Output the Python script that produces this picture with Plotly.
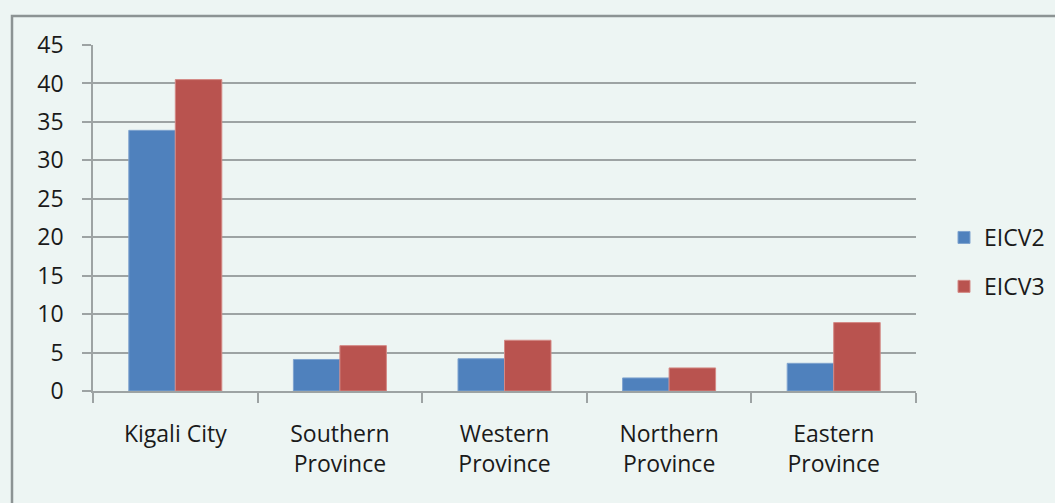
import plotly.graph_objects as go

categories = ["Kigali City", "Southern<br>Province", "Western<br>Province",
              "Northern<br>Province", "Eastern<br>Province"]
eicv2 = [33.9, 4.1, 4.2, 1.7, 3.6]
eicv3 = [40.5, 5.9, 6.6, 3.0, 8.9]
series_names = ["EICV2", "EICV3"]
y_ticks = [0, 5, 10, 15, 20, 25, 30, 35, 40, 45]

W, H = 1055, 503
L, R, T, B = 93, 916, 45, 391
pw, ph = R - L, B - T

BG = "#EDF5F3"
GRID = "#9DA3A3"
FONT = "Open Sans"

fig = go.Figure()
fig.add_trace(go.Bar(x=categories, y=eicv2, name=series_names[0],
                     marker=dict(color="#4F81BD", line=dict(color="#7FA3CF", width=1)),
                     legendgroup="a"))
fig.add_trace(go.Bar(x=categories, y=eicv3, name=series_names[1],
                     marker=dict(color="#B9534F", line=dict(color="#D48985", width=1)),
                     legendgroup="b"))

def px_to_paper_x(px):
    return (px - L) / pw

def px_to_paper_y(py):
    return (B - py) / ph

fig.update_layout(
    width=W, height=H,
    margin=dict(l=L, r=W - R, t=T, b=H - B, pad=0, autoexpand=False),
    paper_bgcolor=BG, plot_bgcolor=BG,
    barmode="group", bargap=0.435, bargroupgap=0,
    font=dict(family=FONT, size=23, color="#1A1A1A"),
    showlegend=True,
    legend=dict(xref="container", yref="container",
                x=944 / W, xanchor="left",
                y=1 - 262 / H, yanchor="middle",
                bgcolor="rgba(0,0,0,0)", tracegroupgap=16,
                font=dict(family=FONT, size=23, color="#1A1A1A")),
    xaxis=dict(type="category", tickson="boundaries", ticks="outside",
               ticklen=10, tickcolor=GRID, tickwidth=1.5,
               showline=True, linecolor=GRID, linewidth=1.5,
               showgrid=False, ticklabelstandoff=22, automargin=False),
    yaxis=dict(range=[0, 45], tickvals=y_ticks, ticks="outside",
               ticklen=9, tickcolor=GRID, tickwidth=1.5,
               showline=True, linecolor=GRID, linewidth=1.5,
               showgrid=True, gridcolor=GRID, gridwidth=1.5,
               zeroline=False, ticklabelstandoff=14, automargin=False),
    shapes=[dict(type="rect", xref="paper", yref="paper",
                 x0=px_to_paper_x(12), x1=px_to_paper_x(1070),
                 y0=px_to_paper_y(520), y1=px_to_paper_y(16),
                 line=dict(color="#8C9393", width=2.5), fillcolor="rgba(0,0,0,0)",
                 layer="below")],
)

fig.write_html("out.html",
               config={"displayModeBar": False},
               post_script="document.body.style.margin='0';"
                           "document.body.style.background='" + BG + "';"
                           "document.body.style.overflow='hidden';")
